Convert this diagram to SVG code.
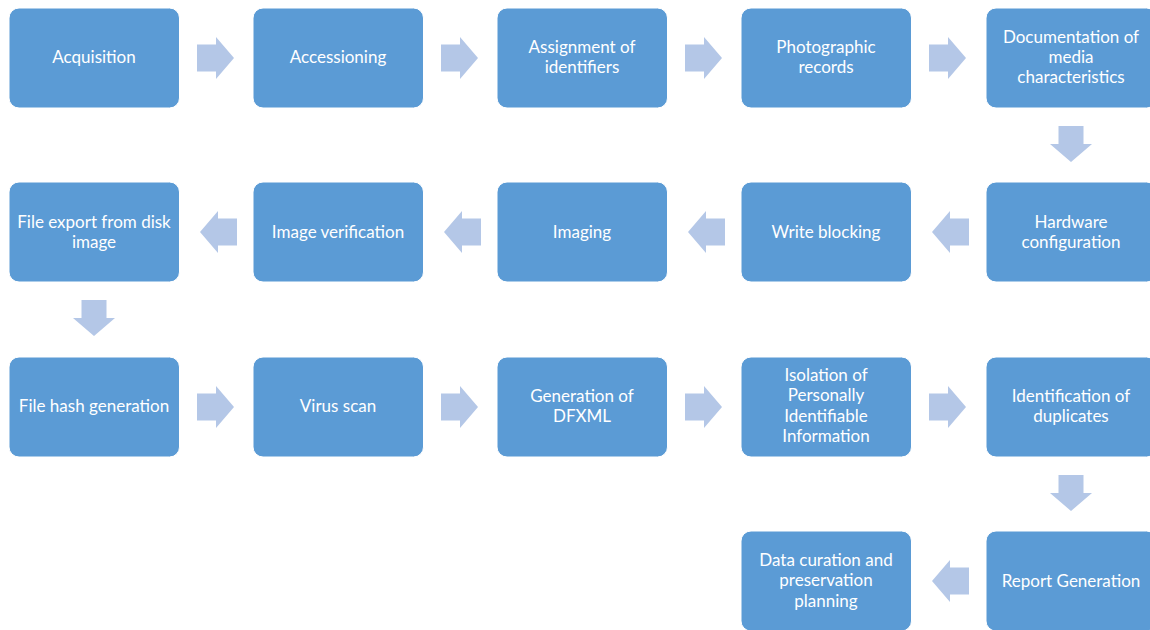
<svg xmlns="http://www.w3.org/2000/svg" width="1150" height="630" viewBox="0 0 1150 630">
<defs>
<style>
.box{fill:#5B9BD5;stroke:#ffffff;stroke-width:1}
.t{font-family:Lato,"Open Sans","Liberation Sans",sans-serif;font-size:17px;fill:#ffffff;text-anchor:middle}
.ar{fill:#B4C7E7}
</style>
<path id="ra" d="M0,-13.5 H19 V-21 L37,0 L19,21 V13.5 H0 Z"/>
<path id="la" d="M0,-13.5 H-19 V-21 L-37,0 L-19,21 V13.5 H0 Z"/>
<path id="da" d="M-12.5,0 V18 H-21 L0,36 L21,18 H12.5 V0 Z"/>
</defs>
<rect width="1150" height="630" fill="#ffffff"/>
<g id="connectors" class="ar">
<use href="#ra" x="197" y="58"/>
<use href="#ra" x="441" y="58"/>
<use href="#ra" x="685" y="58"/>
<use href="#ra" x="929" y="58"/>
<use href="#da" x="1071" y="126"/>
<use href="#la" x="969" y="232"/>
<use href="#la" x="725" y="232"/>
<use href="#la" x="481" y="232"/>
<use href="#la" x="237" y="232"/>
<use href="#da" x="94" y="300"/>
<use href="#ra" x="197" y="407"/>
<use href="#ra" x="441" y="407"/>
<use href="#ra" x="685" y="407"/>
<use href="#ra" x="929" y="407"/>
<use href="#da" x="1071" y="475"/>
<use href="#la" x="969" y="581"/>
</g>
<g id="n1"><rect class="box" x="9" y="8" width="170.5" height="100" rx="10"/><text class="t" x="94" y="63">Acquisition</text></g>
<g id="n2"><rect class="box" x="253" y="8" width="170.5" height="100" rx="10"/><text class="t" x="338" y="63">Accessioning</text></g>
<g id="n3"><rect class="box" x="497" y="8" width="170.5" height="100" rx="10"/><text class="t" x="582" y="53">Assignment of</text><text class="t" x="582" y="73">identifiers</text></g>
<g id="n4"><rect class="box" x="741" y="8" width="170.5" height="100" rx="10"/><text class="t" x="826" y="53">Photographic</text><text class="t" x="826" y="73">records</text></g>
<g id="n5"><rect class="box" x="986" y="8" width="170.5" height="100" rx="10"/><text class="t" x="1071" y="43">Documentation of</text><text class="t" x="1071" y="63">media</text><text class="t" x="1071" y="83">characteristics</text></g>
<g id="n6"><rect class="box" x="986" y="182" width="170.5" height="100" rx="10"/><text class="t" x="1071" y="228">Hardware</text><text class="t" x="1071" y="248">configuration</text></g>
<g id="n7"><rect class="box" x="741" y="182" width="170.5" height="100" rx="10"/><text class="t" x="826" y="238">Write blocking</text></g>
<g id="n8"><rect class="box" x="497" y="182" width="170.5" height="100" rx="10"/><text class="t" x="582" y="238">Imaging</text></g>
<g id="n9"><rect class="box" x="253" y="182" width="170.5" height="100" rx="10"/><text class="t" x="338" y="238">Image verification</text></g>
<g id="n10"><rect class="box" x="9" y="182" width="170.5" height="100" rx="10"/><text class="t" x="94" y="228">File export from disk</text><text class="t" x="94" y="248">image</text></g>
<g id="n11"><rect class="box" x="9" y="357" width="170.5" height="100" rx="10"/><text class="t" x="94" y="412">File hash generation</text></g>
<g id="n12"><rect class="box" x="253" y="357" width="170.5" height="100" rx="10"/><text class="t" x="338" y="412">Virus scan</text></g>
<g id="n13"><rect class="box" x="497" y="357" width="170.5" height="100" rx="10"/><text class="t" x="582" y="402">Generation of</text><text class="t" x="582" y="422">DFXML</text></g>
<g id="n14"><rect class="box" x="741" y="357" width="170.5" height="100" rx="10"/><text class="t" x="826" y="381">Isolation of</text><text class="t" x="826" y="401">Personally</text><text class="t" x="826" y="422">Identifiable</text><text class="t" x="826" y="442">Information</text></g>
<g id="n15"><rect class="box" x="986" y="357" width="170.5" height="100" rx="10"/><text class="t" x="1071" y="402">Identification of</text><text class="t" x="1071" y="422">duplicates</text></g>
<g id="n16"><rect class="box" x="986" y="531" width="170.5" height="100" rx="10"/><text class="t" x="1071" y="587">Report Generation</text></g>
<g id="n17"><rect class="box" x="741" y="531" width="170.5" height="100" rx="10"/><text class="t" x="826" y="566">Data curation and</text><text class="t" x="826" y="586">preservation</text><text class="t" x="826" y="607">planning</text></g>
</svg>
